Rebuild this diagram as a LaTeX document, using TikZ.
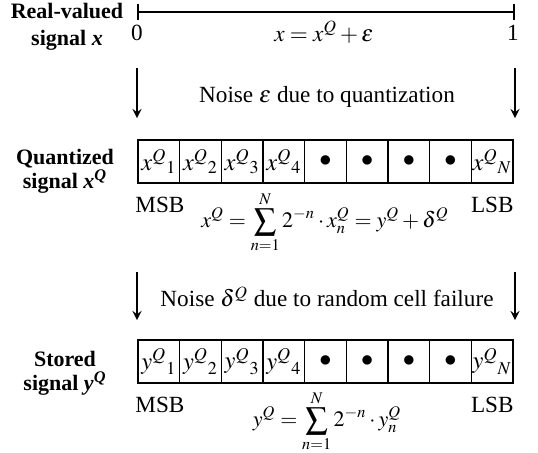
\documentclass[tikz,border=0pt]{standalone}
\usepackage{mathptmx}
\usepackage[no-math]{fontspec}
\setmainfont{Liberation Serif}
\usetikzlibrary{arrows}
\tikzset{
  txt/.style={inner sep=0pt,font=\fontsize{11.6}{13}\selectfont},
  formula/.style={inner sep=0pt,font=\fontsize{11}{13}\selectfont},
  sidelabel/.style={inner sep=0pt,align=center,font=\bfseries\fontsize{11}{12}\selectfont},
  cell/.style={draw,line width=0.75pt,inner sep=0pt,minimum width=20.83pt,minimum height=21.5pt,font=\fontsize{12.2}{13}\selectfont}
}
\begin{document}
\begin{tikzpicture}[x=0.5pt,y=-0.5pt,>=stealth]
		\useasboundingbox (0,0) rectangle (538,452);
		% Define main coordinates
		\coordinate (L0) at (137,12);
		\coordinate (L1) at (515,12);
		\coordinate (A1s) at (137,68);
		\coordinate (A1e) at (137,118);
		\coordinate (B1s) at (515,68);
		\coordinate (B1e) at (515,118);
		\coordinate (A2s) at (137,272);
		\coordinate (A2e) at (137,320);
		\coordinate (B2s) at (515,272);
		\coordinate (B2e) at (515,320);
		
		% Real-valued signal
		\node[sidelabel,font=\bfseries\fontsize{11}{13.5}\selectfont] (realLbl) at (67,27) {Real-valued\\signal \textit{x}};
		\draw[line width=1pt,|-|] (L0) -- (L1);
		\node[txt] (zero) at (137,33) {0};
		\node[txt] (one) at (513,33) {1};
		\node[txt] (realEq) at (324,32) {$x=x^{Q}+\varepsilon$};
		
		% Quantization noise
		\draw[line width=1pt,->] (A1s) -- (A1e);
		\draw[line width=1pt,->] (B1s) -- (B1e);
		\node[txt] (noiseQ) at (327,97) {Noise $\varepsilon$ due to quantization};
		
		% Quantized signal
		\node[sidelabel] (quantLbl) at (65,171) {Quantized\\signal \textit{x}\textsuperscript{\textit{Q}}};
		\foreach \i/\c in {1/{${x^{Q}}_{1}$},2/{${x^{Q}}_{2}$},3/{${x^{Q}}_{3}$},4/{${x^{Q}}_{4}$},5/{$\bullet$},6/{$\bullet$},7/{$\bullet$},8/{$\bullet$},9/{${x^{Q}}_{N}$}}
			\node[cell] (xq\i) at ({138+41.67*(\i-0.5)},161.5) {\c};
		\node[txt,anchor=west] (msbX) at (135,205) {MSB};
		\node[txt,anchor=east] (lsbX) at (514,205) {LSB};
		\node[formula] (quantEq) at (325,222) {$\displaystyle x^{Q}=\sum_{n=1}^{N}2^{-n}\cdot x_{n}^{Q}=y^{Q}+\delta^{Q}$};
		
		% Cell failure noise
		\draw[line width=1pt,->] (A2s) -- (A2e);
		\draw[line width=1pt,->] (B2s) -- (B2e);
		\node[txt] (noiseD) at (327,297) {Noise $\delta^{Q}$ due to random cell failure};
		
		% Stored signal
		\node[sidelabel] (storLbl) at (65,373) {Stored\\signal \textit{y}\textsuperscript{\textit{Q}}};
		\foreach \i/\c in {1/{${y^{Q}}_{1}$},2/{${y^{Q}}_{2}$},3/{${y^{Q}}_{3}$},4/{${y^{Q}}_{4}$},5/{$\bullet$},6/{$\bullet$},7/{$\bullet$},8/{$\bullet$},9/{${y^{Q}}_{N}$}}
			\node[cell] (yq\i) at ({138+41.67*(\i-0.5)},361.5) {\c};
		\node[txt,anchor=west] (msbY) at (135,405) {MSB};
		\node[txt,anchor=east] (lsbY) at (514,405) {LSB};
		\node[formula] (storEq) at (327,421) {$\displaystyle y^{Q}=\sum_{n=1}^{N}2^{-n}\cdot y_{n}^{Q}$};
		
\end{tikzpicture}
\end{document}
